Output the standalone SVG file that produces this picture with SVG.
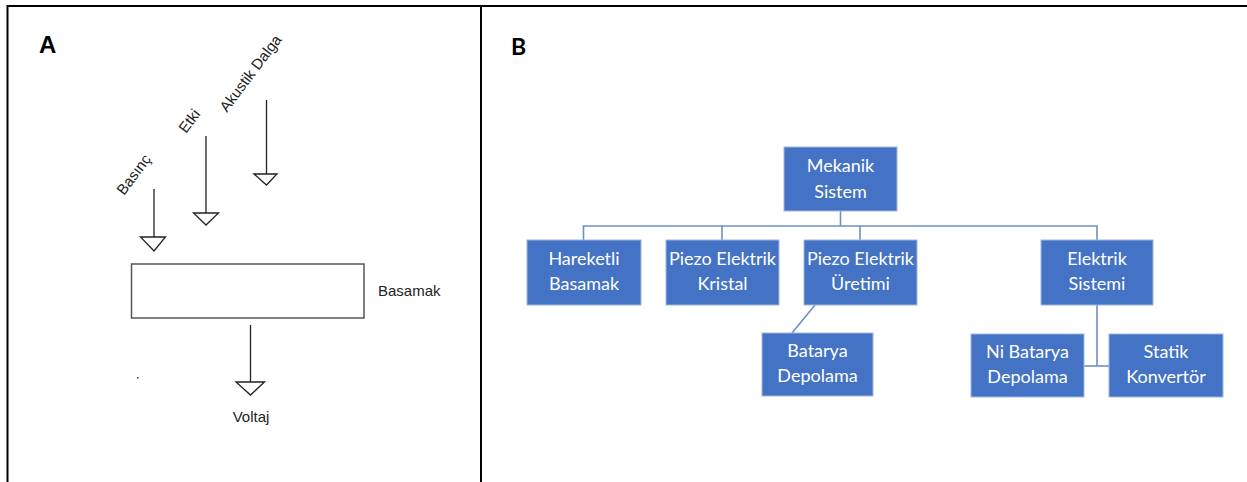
<svg xmlns="http://www.w3.org/2000/svg" width="1247" height="482" viewBox="0 0 1247 482">
<style>
.frame{stroke:#000;stroke-width:2;fill:none}
.arr{stroke:#222;stroke-width:1.3;fill:none}
.tri{stroke:#222;stroke-width:1.3;fill:#fff;stroke-linejoin:miter}
.lblA{font-family:"Liberation Sans",Arial,sans-serif;font-size:15px;fill:#222}
.panel{font-family:"Liberation Sans",Arial,sans-serif;font-weight:bold;font-size:24px;fill:#000}
.box{fill:#4472C4;stroke:#9fb6e0;stroke-width:1}
.bt{font-family:Lato,"Open Sans",sans-serif;font-size:18px;fill:#fff;text-anchor:middle}
.conn{stroke:#6f8fc9;stroke-width:1.6;fill:none}
</style>
<rect width="1247" height="482" fill="#fff"/>
<g id="frame">
<path class="frame" d="M7.5 482 V6 H1247"/>
<path class="frame" d="M481 6 V482"/>
</g>
<text class="panel" x="39" y="53">A</text>
<text class="panel" x="511" y="55" style="font-family:Lato,sans-serif;font-size:23px">B</text>
<g id="panelA">
<g id="akustik">
<path class="arr" d="M266.5 100 V185"/>
<path class="tri" d="M254 174 H277 L266.5 185 Z"/>
<text class="lblA" transform="translate(227,113) rotate(-53)">Akustik Dalga</text>
</g>
<g id="etki">
<path class="arr" d="M206 136 V225"/>
<path class="tri" d="M193.5 213 H218.5 L206 225 Z"/>
<text class="lblA" transform="translate(186,134) rotate(-53)">Etki</text>
</g>
<g id="basinc">
<path class="arr" d="M154 189 V251"/>
<path class="tri" d="M140.5 237 H165.5 L154 251 Z"/>
<text class="lblA" transform="translate(124,196) rotate(-53)">Basınç</text>
</g>
<g id="basamak">
<rect x="131.5" y="264" width="232.5" height="54" fill="#fff" stroke="#555" stroke-width="1.5"/>
<text class="lblA" x="378" y="296">Basamak</text>
</g>
<g id="voltaj">
<path class="arr" d="M250.5 325 V395"/>
<path class="tri" d="M236 382 H264.5 L250.5 395 Z"/>
<text class="lblA" x="251" y="422" text-anchor="middle">Voltaj</text>
</g>
<rect x="137" y="377" width="1.5" height="1.5" fill="#333"/>
</g>
<g id="connectors">
<path class="conn" d="M840.5 211 V226"/>
<path class="conn" d="M583.5 240 V226 H1097 V240"/>
<path class="conn" d="M722 226 V240"/>
<path class="conn" d="M860 226 V240"/>
<path class="conn" d="M815 305 L792 333"/>
<path class="conn" d="M1097 305 V366"/>
<path class="conn" d="M1084 366 H1109"/>
</g>
<g id="mekanik">
<rect class="box" x="784" y="147" width="113" height="64"/>
<text class="bt" x="840.5" y="172">Mekanik</text>
<text class="bt" x="840.5" y="198">Sistem</text>
</g>
<g id="hareketli">
<rect class="box" x="527" y="240" width="114" height="65"/>
<text class="bt" x="584" y="265">Hareketli</text>
<text class="bt" x="584" y="290">Basamak</text>
</g>
<g id="kristal">
<rect class="box" x="666" y="240" width="113" height="65"/>
<text class="bt" x="722.5" y="265">Piezo Elektrik</text>
<text class="bt" x="722.5" y="290">Kristal</text>
</g>
<g id="uretimi">
<rect class="box" x="804" y="240" width="113" height="65"/>
<text class="bt" x="860.5" y="265">Piezo Elektrik</text>
<text class="bt" x="860.5" y="290">Üretimi</text>
</g>
<g id="elektrik">
<rect class="box" x="1041" y="240" width="112" height="65"/>
<text class="bt" x="1097" y="265">Elektrik</text>
<text class="bt" x="1097" y="290">Sistemi</text>
</g>
<g id="batarya">
<rect class="box" x="762" y="333" width="111" height="63"/>
<text class="bt" x="817.5" y="357">Batarya</text>
<text class="bt" x="817.5" y="382">Depolama</text>
</g>
<g id="nibatarya">
<rect class="box" x="971" y="334" width="113" height="63"/>
<text class="bt" x="1027.5" y="358">Ni Batarya</text>
<text class="bt" x="1027.5" y="383">Depolama</text>
</g>
<g id="statik">
<rect class="box" x="1109" y="334" width="114" height="63"/>
<text class="bt" x="1166" y="358">Statik</text>
<text class="bt" x="1166" y="383">Konvertör</text>
</g>
</svg>
